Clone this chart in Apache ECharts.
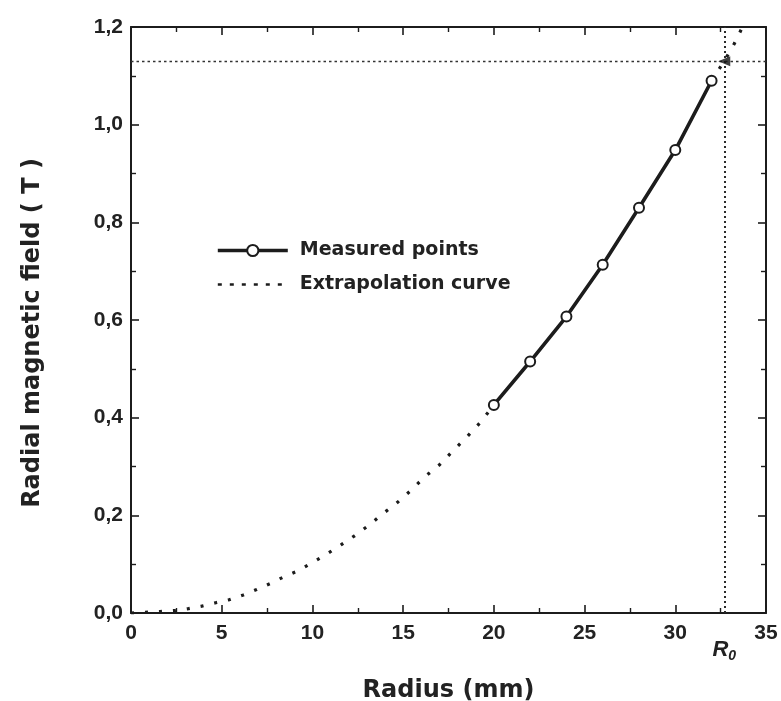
<!DOCTYPE html>
<html>
<head>
<meta charset="utf-8">
<script src="https://cdn.jsdelivr.net/npm/echarts@6/dist/echarts.min.js"></script>
<style>
  html, body { margin: 0; padding: 0; background: #ffffff; }
  #chart { width: 781px; height: 701px; }
</style>
</head>
<body>
<div id="chart"></div>
<script>
// Measured radial field (T) versus radius (mm)
const measuredR = [20, 22, 24, 26, 28, 30, 32];
const measuredB = [0.426, 0.515, 0.607, 0.713, 0.830, 0.948, 1.090];

// Extrapolation curve below the first measured point
const extrapR = [0, 1.6, 2.44, 3.17, 3.9, 4.67, 5.4, 6.19, 6.92, 7.71, 8.48, 9.25, 10.03,
                 10.8, 11.59, 12.32, 13.09, 13.87, 14.61, 15.43, 16.16, 16.99, 17.77, 18.5, 19.25, 20];
const extrapB = [0, 0.003, 0.005, 0.009, 0.014, 0.021, 0.027, 0.037, 0.048, 0.061, 0.075, 0.087, 0.104,
                 0.121, 0.14, 0.158, 0.179, 0.203, 0.224, 0.251, 0.278, 0.303, 0.333, 0.36, 0.39, 0.426];

// Extrapolation beyond the last measured point
const tailR = [32, 32.7, 33.27, 33.65];
const tailB = [1.09, 1.13, 1.167, 1.196];

// Extrapolated radius R0 and the field reached there
const R0 = 32.7;
const B0 = 1.13;

const xTicks = { min: 0, max: 35, interval: 5 };
const yTicks = { min: 0, max: 1.2, interval: 0.2 };

const pairs = (xs, ys) => xs.map((x, i) => [x, ys[i]]);

const ink = '#1c1c1c';
const textFont = 'DejaVu Sans';
const tickFont = 'Liberation Sans';
const dotted = [3, 11];

const tickStyle = { show: true, inside: true, length: 8, lineStyle: { color: ink, width: 1.6 } };
const minorStyle = { show: true, splitNumber: 2, length: 5, lineStyle: { color: ink, width: 1.4 } };
const lineStyle = { show: true, onZero: false, lineStyle: { color: ink, width: 2 } };

const chart = echarts.init(document.getElementById('chart'), null, { renderer: 'canvas' });

chart.setOption({
  animation: false,
  backgroundColor: '#ffffff',
  grid: { left: 131, right: 15, top: 27, bottom: 88, containLabel: false, outerBoundsMode: 'none' },
  legend: {
    data: [
      { name: 'Measured points', lineStyle: { width: 3.6 } },
      {
        name: 'Extrapolation curve',
        lineStyle: { width: 2.4, type: [4, 8] },
        itemStyle: { color: 'rgba(0,0,0,0)', borderWidth: 0, opacity: 0 }
      }
    ],
    orient: 'vertical',
    left: 211,
    top: 236,
    itemWidth: 70,
    itemHeight: 14,
    itemGap: 15,
    selectedMode: false,
    textStyle: {
      fontFamily: textFont, fontWeight: 'bold', fontSize: 19, color: '#222',
      padding: [0, 0, 0, 7]
    }
  },
  xAxis: [
    {
      type: 'value', position: 'bottom',
      min: xTicks.min, max: xTicks.max, interval: xTicks.interval,
      name: 'Radius (mm)', nameLocation: 'middle', nameGap: 66,
      nameTextStyle: { fontFamily: textFont, fontWeight: 'bold', fontSize: 24, color: '#222' },
      axisLine: lineStyle, axisTick: tickStyle, minorTick: minorStyle,
      splitLine: { show: false },
      axisLabel: { margin: 10, fontFamily: tickFont, fontWeight: 'bold', fontSize: 21, color: '#222' }
    },
    {
      type: 'value', position: 'top',
      min: xTicks.min, max: xTicks.max, interval: xTicks.interval,
      axisLine: lineStyle, axisTick: tickStyle, minorTick: minorStyle,
      splitLine: { show: false }, axisLabel: { show: false }
    }
  ],
  yAxis: [
    {
      type: 'value', position: 'left',
      min: yTicks.min, max: yTicks.max, interval: yTicks.interval,
      name: 'Radial magnetic field ( T )', nameLocation: 'middle', nameGap: 86, nameRotate: 90,
      nameTextStyle: {
        fontFamily: textFont, fontWeight: 'bold', fontSize: 24, color: '#222',
        padding: [0, 26, 0, 0]
      },
      axisLine: lineStyle, axisTick: tickStyle, minorTick: minorStyle,
      splitLine: { show: false },
      axisLabel: {
        margin: 8, fontFamily: tickFont, fontWeight: 'bold', fontSize: 21, color: '#222',
        formatter: v => v.toFixed(1).replace('.', ',')
      }
    },
    {
      type: 'value', position: 'right',
      min: yTicks.min, max: yTicks.max, interval: yTicks.interval,
      axisLine: lineStyle, axisTick: tickStyle, minorTick: minorStyle,
      splitLine: { show: false }, axisLabel: { show: false }
    }
  ],
  series: [
    {
      name: 'Extrapolation curve', type: 'line',
      data: pairs(extrapR, extrapB),
      symbol: 'none', smooth: false,
      lineStyle: { color: ink, width: 3.2, type: dotted },
      itemStyle: { color: ink },
      z: 2
    },
    {
      name: 'Extrapolation curve', type: 'line',
      data: pairs(tailR, tailB),
      symbol: 'none',
      lineStyle: { color: ink, width: 3.2, type: dotted },
      itemStyle: { color: ink },
      z: 2
    },
    {
      name: 'Measured points', type: 'line',
      data: pairs(measuredR, measuredB),
      symbol: 'circle', symbolSize: 10, showSymbol: true,
      lineStyle: { color: ink, width: 3.6 },
      itemStyle: { color: '#ffffff', borderColor: ink, borderWidth: 2 },
      z: 4
    },
    {
      name: 'R0 guides', type: 'line',
      data: [],
      markLine: {
        silent: true, symbol: 'none',
        data: [
          {
            xAxis: R0,
            lineStyle: { color: '#2a2a2a', width: 2, type: [2, 3] },
            label: {
              show: true, position: 'start', distance: 24,
              formatter: '{r|R}{s|0}',
              rich: {
                r: { fontFamily: tickFont, fontStyle: 'italic', fontWeight: 'bold', fontSize: 22, color: '#222' },
                s: { fontFamily: tickFont, fontStyle: 'italic', fontWeight: 'bold', fontSize: 14, color: '#222', padding: [12, 0, 0, 0] }
              }
            }
          },
          {
            yAxis: B0,
            lineStyle: { color: '#333', width: 1.3, type: [2.5, 3] },
            label: { show: false }
          }
        ]
      },
      z: 3
    },
    {
      name: 'R0 point', type: 'scatter',
      data: [[R0, B0]],
      symbol: 'triangle', symbolSize: [10, 12], symbolRotate: 90,
      itemStyle: { color: '#111' },
      z: 5
    }
  ]
});
</script>
</body>
</html>
